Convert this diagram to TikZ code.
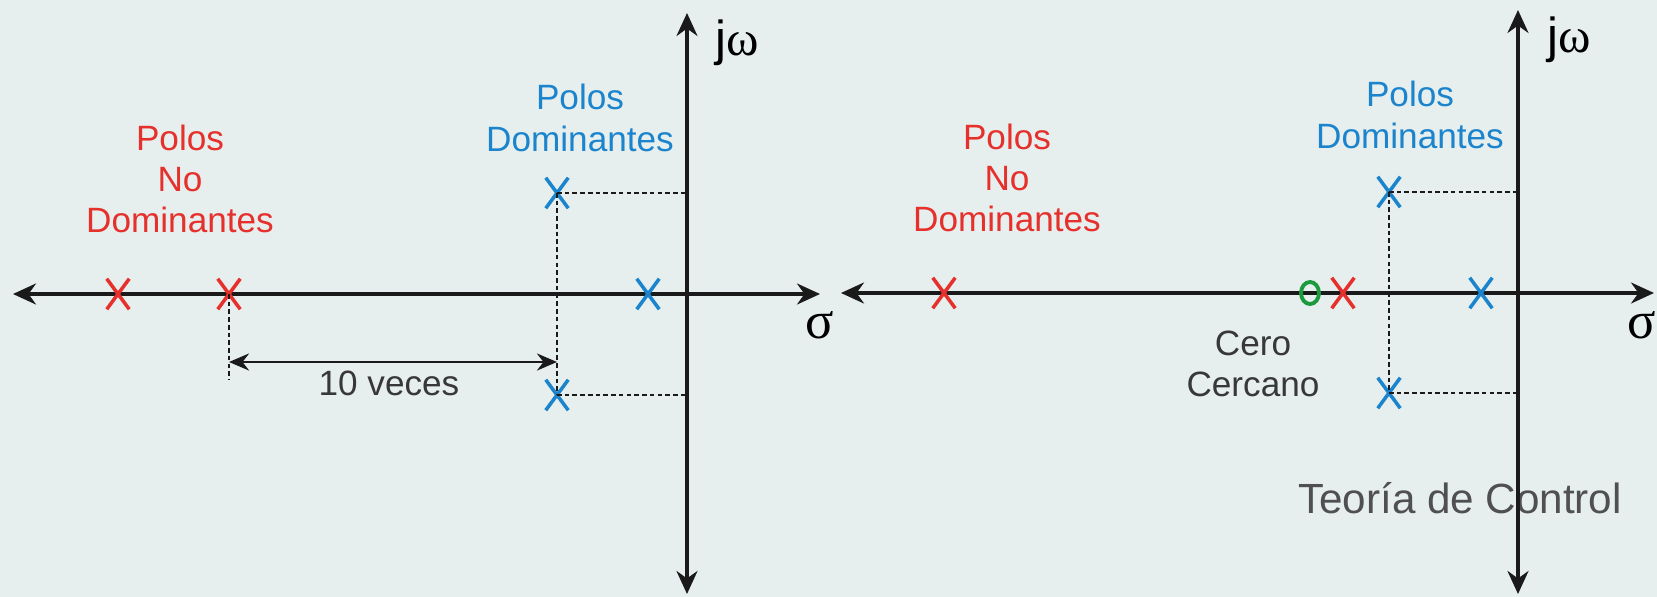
\documentclass[tikz,border=0pt]{standalone}
\usepackage{fontspec}
\setmainfont{Liberation Sans}
\newfontfamily\griega{Liberation Serif}
\usetikzlibrary{arrows.meta,shapes.misc,shapes.geometric}
\definecolor{fondo}{HTML}{E6EFEE}
\definecolor{rojo}{HTML}{E6302C}
\definecolor{azul}{HTML}{1B84CC}
\definecolor{verde}{HTML}{1B9A3E}
\definecolor{tinta}{HTML}{1A1A1A}
\definecolor{texto}{HTML}{383838}
\definecolor{marcaagua}{HTML}{505050}
\tikzset{
  eje/.style={{Stealth[length=0.23cm,width=0.21cm]}-{Stealth[length=0.23cm,width=0.21cm]}, line width=0.9pt, tinta},
  cota/.style={{Stealth[length=0.2cm,width=0.17cm]}-{Stealth[length=0.2cm,width=0.17cm]}, line width=0.8pt, tinta},
  guia/.style={line width=0.6pt, tinta, dash pattern=on 1.3pt off 0.9pt},
  polo/.style={cross out, draw, line width=1pt, inner sep=0pt, minimum width=0.19cm, minimum height=0.27cm},
  cero/.style={ellipse, draw=verde, line width=1.1pt, inner sep=0pt, minimum width=0.18cm, minimum height=0.22cm},
  rotulo/.style={font=\fontsize{10}{11.7}\selectfont, align=center, inner sep=0pt},
  eje label/.style={anchor=base west, inner sep=0pt}
}
\begin{document}
\begin{tikzpicture}[x=0.01cm, y=-0.01cm]
\useasboundingbox (0,0) rectangle (1657,597);
\fill[fondo] (0,0) rectangle (1657,597);

% plano de la izquierda
\coordinate (oeste1) at (13,294);
\coordinate (este1) at (820,294);
\coordinate (norte1) at (687,13);
\coordinate (sur1) at (687,594);
\draw[eje] (oeste1) -- (este1);
\draw[eje] (sur1) -- (norte1);
\node[eje label, font=\fontsize{14}{16}\selectfont] (jw1) at (715,55) {j{\griega ω}};
\node[eje label, font=\fontsize{15}{17}\selectfont\griega] (sigma1) at (805,338) {σ};

\node[polo, rojo] (nd1) at (118,294) {};
\node[polo, rojo] (nd2) at (229,294) {};
\node[polo, azul] (d1) at (648,294) {};
\node[polo, azul] (d2) at (557,193) {};
\node[polo, azul] (d3) at (557,395) {};

\draw[guia] (d2.center) -- (d2.center -| norte1);
\draw[guia] (d3.center) -- (d3.center -| norte1);
\draw[guia] (d2.center) -- (d3.center);
\draw[guia] (nd2.center) -- ++(0,86) coordinate (pie1);
\coordinate (nivel1) at (0,362);
\draw[cota] (nd2 |- nivel1) -- (d2 |- nivel1);

\node[rotulo, rojo] (nodom1) at (180,179) {Polos\\No\\Dominantes};
\node[rotulo, azul] (dom1) at (580,118) {Polos\\Dominantes};
\node[rotulo, texto] (veces) at (389,383) {10 veces};

% plano de la derecha
\coordinate (oeste2) at (841,293);
\coordinate (este2) at (1654,293);
\coordinate (norte2) at (1518,10);
\coordinate (sur2) at (1518,594);
\node[font=\fontsize{12}{14}\selectfont, text=marcaagua, inner sep=0pt] (curso) at (1460,498) {Teoría de Control};
\draw[eje] (oeste2) -- (este2);
\draw[eje] (sur2) -- (norte2);
\node[eje label, font=\fontsize{14}{16}\selectfont] (jw2) at (1547,52) {j{\griega ω}};
\node[eje label, font=\fontsize{15}{17}\selectfont\griega] (sigma2) at (1627,338) {σ};

\node[polo, rojo] (nd3) at (944,293) {};
\node[polo, rojo] (nd4) at (1343,293) {};
\node[cero] (z1) at (1310,293) {};
\node[polo, azul] (d4) at (1481,293) {};
\node[polo, azul] (d5) at (1389,192) {};
\node[polo, azul] (d6) at (1389,393) {};

\draw[guia] (d5.center) -- (d5.center -| norte2);
\draw[guia] (d6.center) -- (d6.center -| norte2);
\draw[guia] (d5.center) -- (d6.center);

\node[rotulo, rojo] (nodom2) at (1007,178) {Polos\\No\\Dominantes};
\node[rotulo, azul] (dom2) at (1410,115) {Polos\\Dominantes};
\node[rotulo, texto] (cercano) at (1253,364) {Cero\\Cercano};
\end{tikzpicture}
\end{document}
